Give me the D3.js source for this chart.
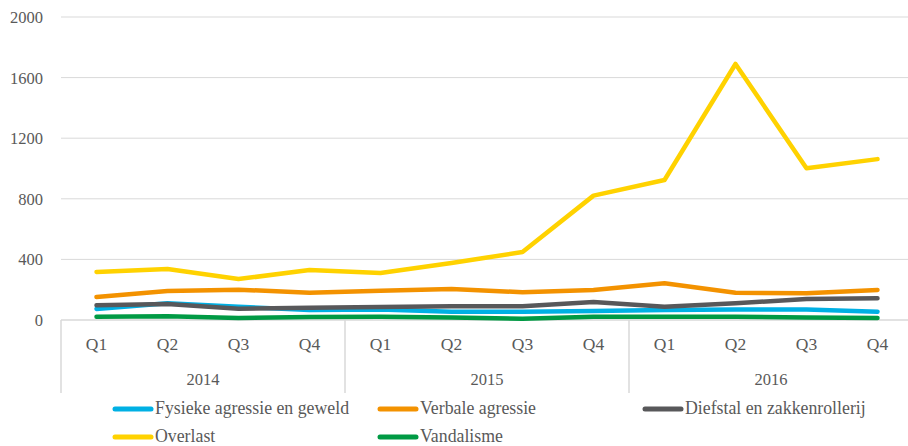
<!DOCTYPE html>
<html>
<head>
<meta charset="utf-8">
<script src="https://cdn.jsdelivr.net/npm/d3@7"></script>
<style>
  body { margin: 0; background: #fff; }
  text { font-family: 'Liberation Serif', 'DejaVu Serif', serif; fill: #595959; }
</style>
</head>
<body>
<div id="chart"></div>
<script>
// Data
const years = ['2014', '2015', '2016'];
const quarters = ['Q1', 'Q2', 'Q3', 'Q4'];
const yTicks = [0, 400, 800, 1200, 1600, 2000];

const fysieke = [73, 110, 88, 66, 70, 55, 55, 59, 66, 70, 70, 55];
const verbale = [152, 191, 200, 180, 193, 205, 183, 198, 242, 180, 176, 198];
const diefstal = [97, 106, 75, 81, 86, 90, 90, 119, 88, 110, 139, 143];
const overlast = [317, 337, 270, 330, 310, 376, 449, 821, 924, 1690, 1001, 1062];
const vandalisme = [22, 24, 13, 20, 22, 17, 9, 22, 22, 22, 17, 13];

const seriesNames = [
  'Fysieke agressie en geweld',
  'Verbale agressie',
  'Diefstal en zakkenrollerij',
  'Overlast',
  'Vandalisme',
];
const seriesValues = [fysieke, verbale, diefstal, overlast, vandalisme];
const colors = ['#00b0e4', '#f39200', '#58585a', '#ffd200', '#009a44'];

// drawing order (front-most last)
const drawOrder = [3, 1, 0, 2, 4];

const width = 908;
const height = 446;
const plotLeft = 61;
const plotTop = 17;
const plotBottom = 320;

const svg = d3
  .select('#chart')
  .append('svg')
  .attr('width', width)
  .attr('height', height);

const categories = [];
years.forEach((yr) => quarters.forEach((q) => categories.push(yr + '-' + q)));

const x = d3
  .scaleBand()
  .domain(categories)
  .range([plotLeft, plotLeft + 12 * 71]);

const y = d3.scaleLinear().domain([0, 2000]).range([plotBottom, plotTop]);

// Gridlines
svg
  .append('g')
  .selectAll('line')
  .data(yTicks.filter((d) => d > 0))
  .enter()
  .append('line')
  .attr('x1', plotLeft)
  .attr('x2', width)
  .attr('y1', (d) => y(d))
  .attr('y2', (d) => y(d))
  .attr('stroke', '#d9d9d9')
  .attr('stroke-width', 1);

// Y labels
svg
  .append('g')
  .selectAll('text')
  .data(yTicks)
  .enter()
  .append('text')
  .attr('x', 43)
  .attr('y', (d) => y(d) + 6)
  .attr('text-anchor', 'end')
  .style('font-size', '16.5px')
  .text((d) => d);

// X axis line
svg
  .append('line')
  .attr('x1', plotLeft)
  .attr('x2', width)
  .attr('y1', plotBottom)
  .attr('y2', plotBottom)
  .attr('stroke', '#d9d9d9')
  .attr('stroke-width', 1.5);

// Year separators
const sepX = [0, 4, 8, 12].map((i) => plotLeft + i * x.bandwidth());
svg
  .append('g')
  .selectAll('line')
  .data(sepX)
  .enter()
  .append('line')
  .attr('x1', (d) => d)
  .attr('x2', (d) => d)
  .attr('y1', plotBottom)
  .attr('y2', 393)
  .attr('stroke', '#d9d9d9')
  .attr('stroke-width', 1.5);

// Quarter labels
svg
  .append('g')
  .selectAll('text')
  .data(categories)
  .enter()
  .append('text')
  .attr('x', (d) => x(d) + x.bandwidth() / 2)
  .attr('y', 350)
  .attr('text-anchor', 'middle')
  .style('font-size', '17.5px')
  .text((d) => d.split('-')[1]);

// Year labels
svg
  .append('g')
  .selectAll('text')
  .data(years)
  .enter()
  .append('text')
  .attr('x', (d, i) => plotLeft + (i * 4 + 2) * x.bandwidth())
  .attr('y', 385)
  .attr('text-anchor', 'middle')
  .style('font-size', '16.5px')
  .text((d) => d);

// Lines
const line = d3
  .line()
  .x((d, i) => x(categories[i]) + x.bandwidth() / 2)
  .y((d) => y(d));

drawOrder.forEach((s) => {
  svg
    .append('path')
    .datum(seriesValues[s])
    .attr('d', line)
    .attr('fill', 'none')
    .attr('stroke', colors[s])
    .attr('stroke-width', 4.5)
    .attr('stroke-linecap', 'round')
    .attr('stroke-linejoin', 'round');
});

// Legend
const legendPos = [
  [113, 409],
  [378, 409],
  [643, 409],
  [113, 437],
  [378, 437],
];

seriesNames.forEach((name, i) => {
  const [lx, ly] = legendPos[i];
  svg
    .append('line')
    .attr('x1', lx + 2)
    .attr('x2', lx + 38)
    .attr('y1', ly)
    .attr('y2', ly)
    .attr('stroke', colors[i])
    .attr('stroke-width', 5)
    .attr('stroke-linecap', 'round');
  svg
    .append('text')
    .attr('x', lx + 42)
    .attr('y', ly + 5)
    .style('font-size', '17.8px')
    .text(name);
});
</script>
</body>
</html>
